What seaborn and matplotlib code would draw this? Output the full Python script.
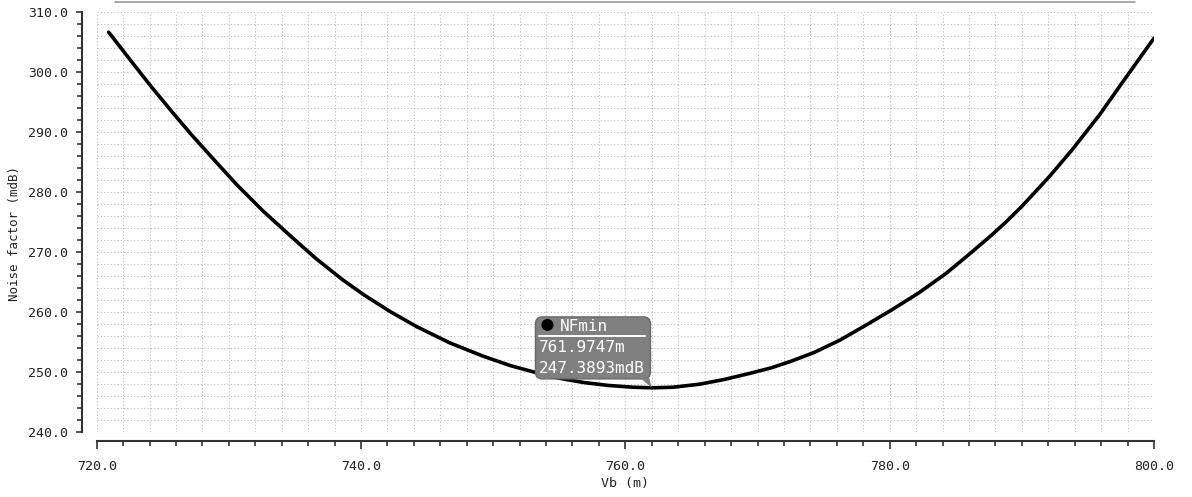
import numpy as np
import pandas as pd
import matplotlib
matplotlib.use("Agg")
import matplotlib.pyplot as plt
import seaborn as sns
from matplotlib.patches import FancyBboxPatch, Polygon, Circle
from matplotlib.lines import Line2D
from matplotlib.transforms import IdentityTransform
from matplotlib.ticker import MultipleLocator, FormatStrFormatter

# values (Vb in mV, noise factor in mdB)
vb_mv = [720.9, 722.6, 724.1, 725.6, 727.1, 728.9, 730.6, 732.6, 734.7, 736.6,
         738.6, 740.2, 742.2, 744.2, 746.7, 749.2, 751.3, 753.3, 755.0, 756.8,
         758.7, 760.6, 762.0, 763.6, 765.6, 767.5, 769.4, 771.0, 772.5, 774.3,
         776.2, 778.1, 780.1, 782.2, 784.3, 786.0, 787.6, 788.8, 790.0, 792.1,
         793.8, 795.9, 797.6, 800.0]
noise_factor_mdb = [306.6, 301.8, 297.6, 293.6, 289.7, 285.3, 281.2, 276.8, 272.6, 268.9,
                    265.4, 262.9, 260.1, 257.6, 254.9, 252.7, 251.1, 249.9, 249.0, 248.3,
                    247.8, 247.5, 247.4, 247.5, 248.0, 248.8, 249.8, 250.7, 251.8, 253.3,
                    255.3, 257.7, 260.3, 263.2, 266.5, 269.6, 272.6, 275.0, 277.6, 282.6,
                    287.0, 292.9, 298.2, 305.6]

# marker readout
nfmin_vb = 761.9747
nfmin_nf = 247.3893
marker_name = "NFmin"
marker_lines = ["761.9747m", "247.3893mdB"]

x_ticks = [720, 740, 760, 780, 800]
y_ticks = [240, 250, 260, 270, 280, 290, 300, 310]

sns.set_theme(style="white")
plt.rcParams['font.family'] = ['DejaVu Sans Mono', 'DejaVu Sans']

W, H = 1192, 497
fig = plt.figure(figsize=(W / 100, H / 100), dpi=100)
fig.patch.set_facecolor("white")
ax = fig.add_axes([96.7 / W, (H - 432.3) / H, 1057.3 / W, 420.6 / H])

df = pd.DataFrame({"Vb": vb_mv, "NF": noise_factor_mdb})
sns.lineplot(data=df, x="Vb", y="NF", ax=ax, color="black", linewidth=2.6, sort=False,
             solid_joinstyle="round", solid_capstyle="round")

ax.set_xlim(x_ticks[0], x_ticks[-1])
ax.set_ylim(y_ticks[0], y_ticks[-1])
ax.set_xticks(x_ticks)
ax.set_yticks(y_ticks)
ax.xaxis.set_minor_locator(MultipleLocator(2))
ax.yaxis.set_minor_locator(MultipleLocator(2))
ax.xaxis.set_major_formatter(FormatStrFormatter("%.1f"))
ax.yaxis.set_major_formatter(FormatStrFormatter("%.1f"))

# dotted grid on every minor step
ax.grid(which="both", color="#bdbdbd", linestyle=(0, (1, 2)), linewidth=0.8)
ax.set_axisbelow(True)

for s in ["top", "right"]:
    ax.spines[s].set_visible(False)
ax.spines["left"].set_position(("outward", 10.5))
ax.spines["bottom"].set_position(("outward", 6.5))
for s in ["left", "bottom"]:
    ax.spines[s].set_color("#333333")
    ax.spines[s].set_linewidth(1.5)

ax.tick_params(axis="y", which="major", direction="out", length=4.5, width=1.2,
               color="#333333", pad=5.5, labelsize=9.5, labelcolor="#222222", left=True)
ax.tick_params(axis="y", which="minor", direction="out", length=3.5, width=1.2,
               color="#333333", left=True)
ax.tick_params(axis="x", which="major", direction="out", length=6, width=1.2,
               color="#333333", pad=7.5, labelsize=9.5, labelcolor="#222222", bottom=True)
ax.tick_params(axis="x", which="minor", direction="out", length=3.8, width=1.2,
               color="#333333", bottom=True)

ax.set_xlabel("Vb (m)", fontsize=9.5, color="#222222")
ax.set_ylabel("Noise factor (mdB)", fontsize=9, color="#222222")
ax.xaxis.set_label_coords(0.5, -0.106)
ax.yaxis.set_label_coords(-0.0716, 0.4715)

# thin header line at the very top
fig.add_artist(Line2D([115, 1135], [H - 1.5, H - 1.5], transform=IdentityTransform(),
                      color="#9a9a9a", linewidth=1.2))

# marker bubble, placed in pixels relative to the minimum point
px, py = ax.transData.transform((nfmin_vb, nfmin_nf))
bubble_fc = "#808080"
box = FancyBboxPatch((px - 116, py + 9), 115, 62,
                     boxstyle="round,pad=0,rounding_size=7",
                     transform=IdentityTransform(), fc=bubble_fc, ec="#6a6a6a", lw=1.0)
fig.add_artist(box)
tail = Polygon([(px - 11, py + 9.8), (px - 2, py + 9.8), (px, py + 0.5)], closed=True,
               transform=IdentityTransform(), fc=bubble_fc, ec="none")
fig.add_artist(tail)
fig.add_artist(Circle((px - 104, py + 63), 6, transform=IdentityTransform(),
                      fc="black", ec="none"))
fig.add_artist(Line2D([px - 112, px - 6], [py + 52, py + 52], transform=IdentityTransform(),
                      color="white", linewidth=1.4))
fig.text(px - 92, py + 61.5, marker_name, transform=IdentityTransform(),
         color="white", fontsize=11.5, ha="left", va="center")
fig.text(px - 113, py + 40, marker_lines[0], transform=IdentityTransform(),
         color="white", fontsize=11.5, ha="left", va="center")
fig.text(px - 113, py + 19.5, marker_lines[1], transform=IdentityTransform(),
         color="white", fontsize=11.5, ha="left", va="center")

fig.savefig("out.png", dpi=100, facecolor="white")
plt.close(fig)
